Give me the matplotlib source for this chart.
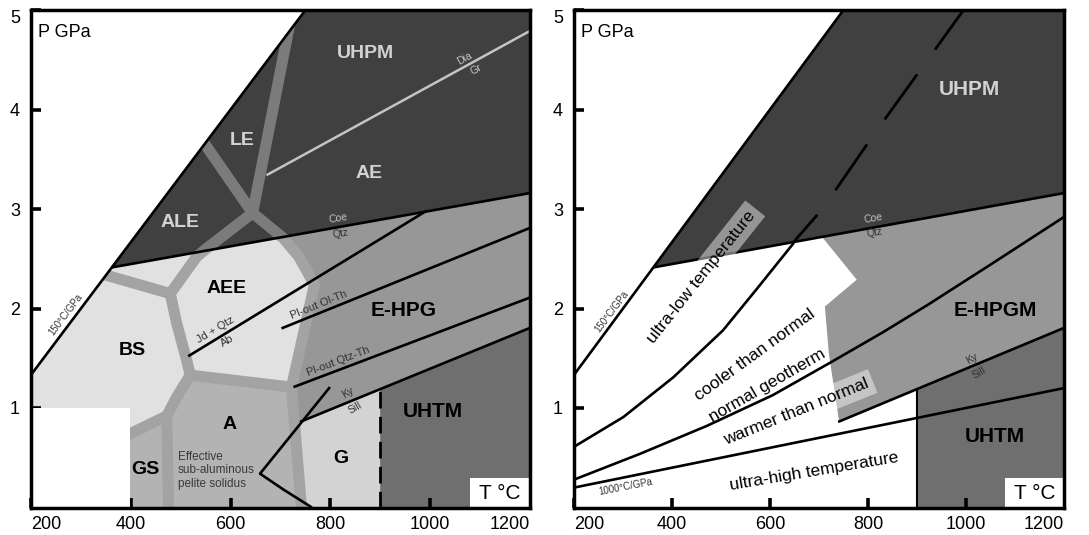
import matplotlib
matplotlib.use("Agg")
import matplotlib.pyplot as plt
from matplotlib.patches import Polygon, Rectangle

plt.rcParams["font.family"] = ["Liberation Sans", "DejaVu Sans"]

# ---------------- data (T in °C, P in GPa) ----------------
T_RANGE = [200, 1200]
P_RANGE = [0, 5]
x_ticks = [200, 400, 600, 800, 1000, 1200]
y_ticks = [1, 2, 3, 4, 5]

# straight reaction / geotherm lines
geo150_T = [200, 750]
geo150_P = [1.333, 5.0]
geo1000_T = [200, 1200]
geo1000_P = [0.2, 1.2]
coe_qtz_T = [362, 1200]
coe_qtz_P = [2.413, 3.160]
ky_sill_T = [739, 900, 1200]
ky_sill_P = [0.86, 1.19, 1.805]
dia_gr_T = [672, 1200]
dia_gr_P = [3.34, 4.79]
jd_ab_T = [515, 992]
jd_ab_P = [1.52, 2.98]
plout_olth_T = [702, 1200]
plout_olth_P = [1.80, 2.81]
plout_qtzth_T = [726, 1200]
plout_qtzth_P = [1.21, 2.11]
solidus_T = [799, 746, 659, 706, 763]
solidus_P = [1.21, 0.88, 0.34, 0.18, 0.0]
t900_T = [900, 900]
t900_P = [0.0, 1.19]

# facies boundary bands (left panel)
band1_T = [722, 644];               band1_P = [4.95, 2.96]
band2_T = [535, 644];               band2_P = [3.75, 2.96]
band3_T = [644, 705, 737, 768, 722, 742, 744]
band3_P = [2.96, 2.71, 2.52, 2.24, 1.21, 0.0, -0.1]
band4_T = [644, 551, 532, 479];     band4_P = [2.96, 2.60, 2.52, 2.15]
band5_T = [479, 340];               band5_P = [2.15, 2.35]
band6_T = [479, 492, 512, 519];     band6_P = [2.15, 1.85, 1.48, 1.33]
band7_T = [519, 722];               band7_P = [1.33, 1.21]
band8_T = [519, 492, 472];          band8_P = [1.33, 1.11, 0.92]
band9_T = [472, 390];               band9_P = [0.92, 0.72]
band10_T = [472, 476];              band10_P = [0.92, -0.1]

# facies fields (left panel)
dark_T = [362, 750, 1200, 1200];    dark_P = [2.413, 5.0, 5.0, 3.160]
below_T = [200, 200, 362, 1200, 1200]; below_P = [0.0, 1.333, 2.413, 3.160, 0.0]
light_T = [200, 200, 362, 703, 737, 768, 722, 519, 492, 472, 390]
light_P = [0.72, 1.333, 2.413, 2.716, 2.52, 2.24, 1.21, 1.33, 1.11, 0.92, 0.72]
amph_T = [398, 398, 472, 492, 519, 722, 742]
amph_P = [0.0, 0.74, 0.92, 1.11, 1.33, 1.21, 0.0]
gran_T = [742, 728, 900, 900];      gran_P = [0.0, 0.837, 1.19, 0.0]
uhtm_T = [900, 900, 1200, 1200];    uhtm_P = [0.0, 1.19, 1.805, 0.0]
blank_T = [200, 398];               blank_P = [0.0, 1.0]

# right panel geotherms
cooler_T = [200, 301, 403, 504, 572, 647, 652]
cooler_P = [0.61, 0.91, 1.31, 1.78, 2.19, 2.65, 2.69]
cooler_dash_T = [652, 707, 815, 995]
cooler_dash_P = [2.69, 3.00, 3.77, 5.0]
normal_T = [200, 335, 471, 606, 728, 830, 923, 1056, 1200]
normal_P = [0.28, 0.54, 0.82, 1.13, 1.47, 1.76, 2.04, 2.46, 2.92]
ehpgm_T = [706, 777, 712, 720, 741, 1200, 1200]
ehpgm_P = [2.72, 2.29, 2.02, 1.55, 0.864, 1.805, 3.160]

# colours
C_DARK = "#404040"
C_MID = "#979797"
C_LIGHT = "#e1e1e1"
C_AMPH = "#b3b3b3"
C_GRAN = "#d3d3d3"
C_UHTM = "#6f6f6f"
C_BAND_DARK = "#7b7b7b"
C_BAND_LIGHT = "#a3a3a3"
C_TXT_LIGHT = "#d2d2d2"
C_TXT_SMALL = "#333333"

fig = plt.figure(figsize=(10.89, 5.35), dpi=100)
W, H = 1089.0, 535.0
ax1 = fig.add_axes([31 / W, 27.5 / H, 499 / W, 497.5 / H])
ax2 = fig.add_axes([574 / W, 27.5 / H, 490 / W, 497.5 / H])


def style_axes(ax):
    ax.set_xlim(*T_RANGE)
    ax.set_ylim(*P_RANGE)
    ax.set_xticks(x_ticks, [str(v) for v in x_ticks])
    ax.set_yticks(y_ticks, [str(v) for v in y_ticks])
    xl = ax.get_xticklabels()
    xl[0].set_ha("left")
    xl[-1].set_ha("right")
    yl = ax.get_yticklabels()
    yl[-1].set_va("top")
    ax.tick_params(direction="in", length=7, width=2.6, labelsize=13,
                   top=False, right=False)
    ax.tick_params(axis="x", pad=6)
    ax.tick_params(axis="y", pad=8)
    for s in ax.spines.values():
        s.set_linewidth(2.5)
        s.set_zorder(6)
    ax.text(214, 4.77, "P GPa", fontsize=13, ha="left", va="center", zorder=5)
    ax.add_patch(Rectangle((1080, 0), 120, 0.30, fc="white", ec="none", zorder=2.5))
    ax.text(1140, 0.14, "T °C", fontsize=15, ha="center", va="center", zorder=5)


def poly(ax, T, P, color, z=1):
    p = Polygon(list(zip(T, P)), closed=True, fc=color, ec="none", zorder=z)
    ax.add_patch(p)
    return p


def line(ax, T, P, **kw):
    kw.setdefault("color", "black")
    kw.setdefault("lw", 1.9)
    kw.setdefault("zorder", 3)
    ax.plot(T, P, solid_capstyle="butt", solid_joinstyle="round", **kw)


# ================= left panel =================
ax = ax1
below = poly(ax, below_T, below_P, C_MID)
poly(ax, light_T, light_P, C_LIGHT)
poly(ax, amph_T, amph_P, C_AMPH)
poly(ax, gran_T, gran_P, C_GRAN)
poly(ax, uhtm_T, uhtm_P, C_UHTM)
dark = poly(ax, dark_T, dark_P, C_DARK)
ax.add_patch(Rectangle((blank_T[0], blank_P[0]), blank_T[1] - blank_T[0],
                       blank_P[1] - blank_P[0], fc="white", ec="none", zorder=2))

bands = [(band1_T, band1_P), (band2_T, band2_P), (band3_T, band3_P),
         (band4_T, band4_P), (band5_T, band5_P), (band6_T, band6_P),
         (band7_T, band7_P), (band8_T, band8_P), (band9_T, band9_P),
         (band10_T, band10_P)]
for bT, bP in bands:
    for clip, col in ((dark, C_BAND_DARK), (below, C_BAND_LIGHT)):
        ln, = ax.plot(bT, bP, color=col, lw=8, solid_joinstyle="round",
                      solid_capstyle="butt", zorder=1.5)
        ln.set_clip_path(clip)

line(ax, geo150_T, geo150_P)
line(ax, coe_qtz_T, coe_qtz_P)
line(ax, dia_gr_T, dia_gr_P, color="#c4c4c4", lw=1.8)
line(ax, jd_ab_T, jd_ab_P)
line(ax, plout_olth_T, plout_olth_P)
line(ax, plout_qtzth_T, plout_qtzth_P)
line(ax, ky_sill_T, ky_sill_P)
line(ax, solidus_T, solidus_P)
ax.plot(t900_T, t900_P, color="black", lw=2.0, linestyle=(0, (6, 3)), zorder=3)

big = dict(fontsize=14, fontweight="bold", ha="center", va="center", zorder=5)
ax.text(871, 4.56, "UHPM", color=C_TXT_LIGHT, **big)
ax.text(623, 3.69, "LE", color=C_TXT_LIGHT, **big)
ax.text(878, 3.36, "AE", color=C_TXT_LIGHT, **big)
ax.text(499, 2.86, "ALE", color=C_TXT_LIGHT, **big)
ax.text(592, 2.20, "AEE", color="black", **big)
ax.text(403, 1.58, "BS", color="black", **big)
ax.text(947, 1.98, "E-HPG", color="black", **dict(big, fontsize=15))
ax.text(598, 0.83, "A", color="black", **big)
ax.text(430, 0.38, "GS", color="black", **big)
ax.text(820, 0.49, "G", color="black", **big)
ax.text(1006, 0.96, "UHTM", color="black", **dict(big, fontsize=15))

sm = dict(fontsize=7.5, ha="center", va="center", zorder=5)
ax.text(1068, 4.51, "Dia", color="#c4c4c4", rotation=29, **sm)
ax.text(1092, 4.40, "Gr", color="#c4c4c4", rotation=29, **sm)
ax.text(816, 2.91, "Coe", color="#c4c4c4", rotation=10, **sm)
ax.text(820, 2.75, "Qtz", color=C_TXT_SMALL, rotation=10, **sm)
ax.text(569, 1.78, "Jd + Qtz", color=C_TXT_SMALL, rotation=31, **dict(sm, fontsize=8))
ax.text(594, 1.67, "Ab", color=C_TXT_SMALL, rotation=31, **dict(sm, fontsize=8))
ax.text(776, 2.04, "Pl-out Ol-Th", color=C_TXT_SMALL, rotation=22, **dict(sm, fontsize=8))
ax.text(816, 1.47, "Pl-out Qtz-Th", color=C_TXT_SMALL, rotation=21, **dict(sm, fontsize=8))
ax.text(836, 1.15, "Ky", color=C_TXT_SMALL, rotation=30, **sm)
ax.text(849, 1.00, "Sill", color=C_TXT_SMALL, rotation=30, **sm)
ax.text(270, 1.94, "150°C/GPa", color=C_TXT_SMALL, rotation=53, **dict(sm, fontsize=7))
ax.text(494, 0.375, "Effective\nsub-aluminous\npelite solidus", fontsize=8.5,
        color="#3a3a3a", ha="left", va="center", linespacing=1.15, zorder=5)
style_axes(ax)

# ================= right panel =================
ax = ax2
poly(ax, ehpgm_T, ehpgm_P, C_MID)
poly(ax, uhtm_T, uhtm_P, C_UHTM)
poly(ax, dark_T, dark_P, C_DARK)

line(ax, geo150_T, geo150_P)
line(ax, coe_qtz_T, coe_qtz_P)
line(ax, geo1000_T, geo1000_P)
line(ax, ky_sill_T, ky_sill_P)
line(ax, t900_T, t900_P, lw=1.5)
line(ax, cooler_T, cooler_P)
ax.plot(cooler_dash_T, cooler_dash_P, color="black", lw=2.0,
        linestyle=(8, (20, 11)), zorder=3)
line(ax, normal_T, normal_P)

ax.text(1007, 4.20, "UHPM", color=C_TXT_LIGHT, **dict(big, fontsize=15))
ax.text(1059, 1.98, "E-HPGM", color="black", **dict(big, fontsize=15))
ax.text(1059, 0.71, "UHTM", color="black", **dict(big, fontsize=15))
ax.text(811, 2.91, "Coe", color="#c4c4c4", rotation=10, **sm)
ax.text(813, 2.76, "Qtz", color=C_TXT_SMALL, rotation=10, **sm)
ax.text(1013, 1.50, "Ky", color=C_TXT_SMALL, rotation=30, **sm)
ax.text(1027, 1.35, "Sill", color=C_TXT_SMALL, rotation=30, **sm)
ax.text(278, 1.97, "150°C/GPa", color=C_TXT_SMALL, rotation=53, **dict(sm, fontsize=7))
ax.text(305, 0.21, "1000°C/GPa", color=C_TXT_SMALL, rotation=11, **dict(sm, fontsize=7))

box = dict(boxstyle="square,pad=0.3", fc="white", ec="none", alpha=0.45)
geo = dict(fontsize=12.5, ha="center", va="center", zorder=5,
           rotation_mode="anchor")
ax.text(459, 2.32, "ultra-low temperature", rotation=51.5, bbox=box, **geo)
ax.text(570, 1.53, "cooler than normal", rotation=36, bbox=box, **geo)
ax.text(594, 1.23, "normal geotherm", rotation=30, **geo)
ax.text(653, 0.96, "warmer than normal", rotation=22, bbox=box, **geo)
ax.text(689, 0.36, "ultra-high temperature", rotation=9.5, **geo)
style_axes(ax)

fig.savefig("out.png", dpi=100)
